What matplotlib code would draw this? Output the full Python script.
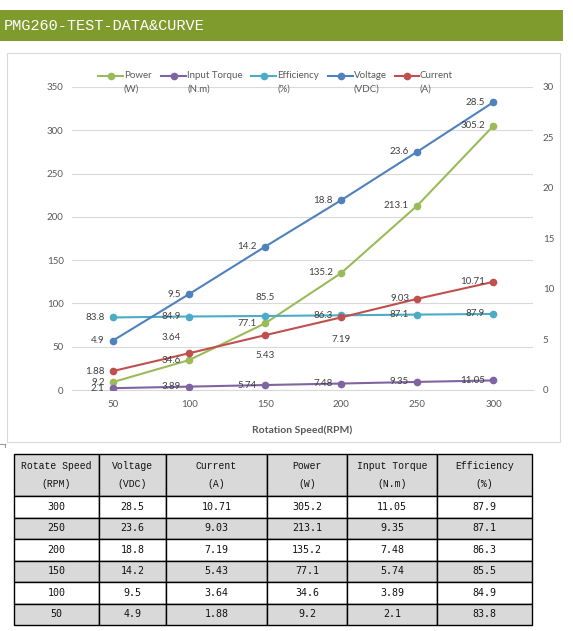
import matplotlib.pyplot as plt
from matplotlib.lines import Line2D
from matplotlib.patches import Rectangle

# test data of the PMG260 generator
speed = [50, 100, 150, 200, 250, 300]
power = [9.2, 34.6, 77.1, 135.2, 213.1, 305.2]
torque = [2.1, 3.89, 5.74, 7.48, 9.35, 11.05]
efficiency = [83.8, 84.9, 85.5, 86.3, 87.1, 87.9]
voltage = [4.9, 9.5, 14.2, 18.8, 23.6, 28.5]
current = [1.88, 3.64, 5.43, 7.19, 9.03, 10.71]

left_ticks = [0, 50, 100, 150, 200, 250, 300, 350]
right_ticks = [0, 5, 10, 15, 20, 25, 30]

table_header = ['Rotate Speed\n(RPM)', 'Voltage\n(VDC)', 'Current\n(A)',
                'Power\n(W)', 'Input Torque\n(N.m)', 'Efficiency\n(%)']

W, H = 573, 631


def fx(px):
    return px / W


def fy(py):
    return 1 - py / H


fig = plt.figure(figsize=(W / 100, H / 100), dpi=100)
fig.patch.set_facecolor('white')

# green title bar
fig.add_artist(Rectangle((0, fy(41)), fx(563), (41 - 10) / H, transform=fig.transFigure,
                         facecolor='#7f9a2d', edgecolor='none'))
fig.text(fx(4), fy(25.5), 'PMG260-TEST-DATA&CURVE', color='white', fontsize=11,
         family='Liberation Mono', va='center', ha='left')

# chart frame
fig.add_artist(Rectangle((fx(7), fy(442)), (560 - 7) / W, (442 - 53) / H, transform=fig.transFigure,
                         facecolor='none', edgecolor='#d9d9d9', lw=0.8))

ax = fig.add_axes([fx(72), fy(390), (533 - 72) / W, (390 - 87) / H])
ax2 = ax.twinx()

gray = '#595959'
font = 'Lato'

series = [
    ('Power', '(W)', power, '#9bbb59', ax),
    ('Input Torque', '(N.m)', torque, '#8064a2', ax),
    ('Efficiency', '(%)', efficiency, '#4bacc6', ax),
    ('Voltage', '(VDC)', voltage, '#4f81bd', ax2),
    ('Current', '(A)', current, '#c0504d', ax2),
]

for name, unit, vals, col, a in series:
    a.plot(speed, vals, color=col, lw=1.5, marker='o', ms=4.5, zorder=3)

ax.set_xlim(23, 326)
ax.set_ylim(0, 350)
ax2.set_ylim(0, 30)
ax.set_xticks(speed)
ax.set_yticks(left_ticks)
ax2.set_yticks(right_ticks)

ax.yaxis.grid(True, color='#d9d9d9', lw=0.8)
ax.set_axisbelow(True)
for a in (ax, ax2):
    for s in a.spines.values():
        s.set_visible(False)
ax.spines['bottom'].set_visible(True)
ax.spines['bottom'].set_color('#d9d9d9')
ax.tick_params(axis='both', length=0, labelcolor=gray, labelsize=7)
ax.tick_params(axis='y', pad=6)
ax.tick_params(axis='x', pad=7)
ax2.tick_params(axis='y', length=0, labelcolor=gray, labelsize=7, pad=7)
for lab in ax.get_xticklabels() + ax.get_yticklabels() + ax2.get_yticklabels():
    lab.set_family(font)

ax.set_xlabel('Rotation Speed(RPM)', color=gray, fontsize=7.5, fontweight='bold',
              family=font, labelpad=12)

# data labels (default: left of the point)
special = {
    ('Efficiency', 2): (0, 13),
    ('Current', 1): (-13, 11.5),
    ('Current', 2): (0, -15),
    ('Current', 3): (0, -16),
}
for name, unit, vals, col, a in series:
    for i, (x, v) in enumerate(zip(speed, vals)):
        off = special.get((name, i))
        if off is None:
            ax2.annotate(str(v), xy=(x, v), xycoords=a.transData, xytext=(-6, 0),
                         textcoords='offset points', ha='right', va='center',
                         fontsize=7, color='#404040', family=font, zorder=5)
        else:
            ax2.annotate(str(v), xy=(x, v), xycoords=a.transData, xytext=off,
                         textcoords='offset points', ha='center', va='center',
                         fontsize=7, color='#404040', family=font, zorder=5)

# legend at top
legend_pos = [(98, 124), (161, 187), (251, 277), (328, 354), (395, 420)]
for (name, unit, vals, col, a), (x0, xt) in zip(series, legend_pos):
    fig.add_artist(Line2D([fx(x0), fx(xt - 1)], [fy(76), fy(76)], transform=fig.transFigure,
                          color=col, lw=1.5))
    fig.add_artist(Line2D([fx((x0 + xt - 1) / 2)], [fy(76)], transform=fig.transFigure,
                          color=col, marker='o', ms=4.5, lw=0))
    fig.text(fx(xt), fy(76), name, color=gray, fontsize=7, family=font, va='center', ha='left')
    fig.text(fx(xt), fy(89), unit, color=gray, fontsize=7, family=font, va='center', ha='left')

# little corner mark above the table
fig.add_artist(Line2D([fx(0), fx(5)], [fy(444), fy(444)], transform=fig.transFigure,
                      color='#9a9a9a', lw=0.8))
fig.add_artist(Line2D([fx(5), fx(5)], [fy(444), fy(447)], transform=fig.transFigure,
                      color='#9a9a9a', lw=0.8))

# data table
rows = []
for i in reversed(range(len(speed))):
    rows.append([str(speed[i]), str(voltage[i]), str(current[i]),
                 str(power[i]), str(torque[i]), str(efficiency[i])])

col_w = [85, 67, 101, 80, 90, 95]
tab_ax = fig.add_axes([fx(14), fy(625), (532 - 14) / W, (625 - 454) / H])
tab_ax.axis('off')
tbl = tab_ax.table(cellText=rows, colLabels=table_header,
                   colWidths=[w / sum(col_w) for w in col_w],
                   cellLoc='center', bbox=[0, 0, 1, 1])
tbl.auto_set_font_size(False)
for (r, c), cell in tbl.get_celld().items():
    cell.set_edgecolor('black')
    cell.set_linewidth(1.0)
    cell.set_height(42 if r == 0 else 21.5)
    txt = cell.get_text()
    if r == 0:
        cell.set_facecolor('#d9d9d9')
        txt.set_family('Liberation Mono')
        txt.set_fontsize(7)
        txt.set_linespacing(2.1)
    else:
        cell.set_facecolor('white' if r % 2 == 1 else '#d9d9d9')
        txt.set_family('DejaVu Sans Mono')
        txt.set_fontsize(7.2)
    txt.set_color('#111111')

fig.savefig('out.png', dpi=100, facecolor='white')
